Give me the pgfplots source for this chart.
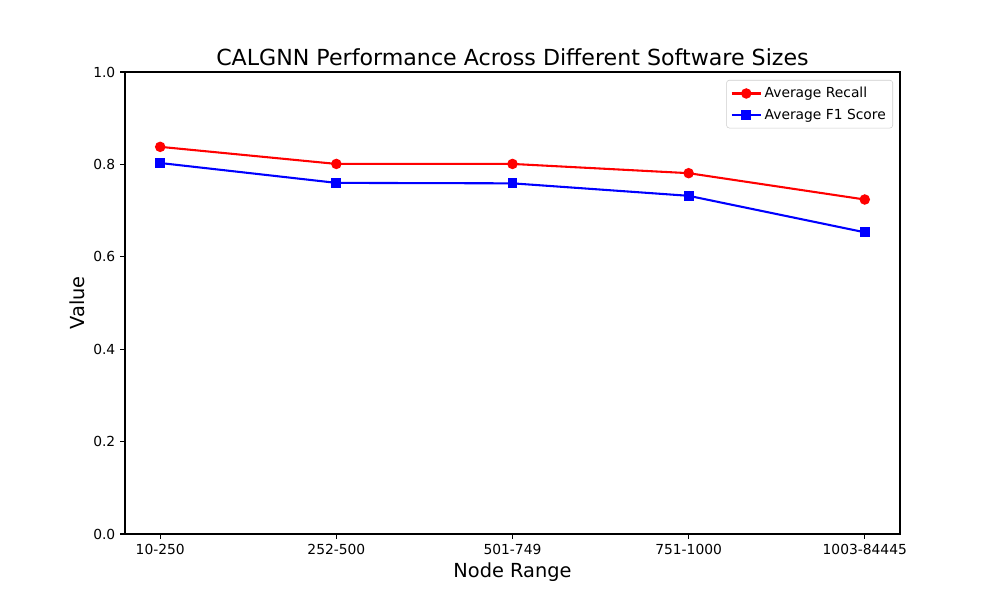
\documentclass[border=0pt]{standalone}
\usepackage{pgfplots}
\pgfplotsset{compat=1.18}
\usepackage{fontspec}
\setmainfont{DejaVu Sans}

\begin{document}
\begin{tikzpicture}
\begin{axis}[
  width=7.75in, height=4.62in, scale only axis,
  xmin=-0.2, xmax=4.2, ymin=0, ymax=1,
  xtick={0,1,2,3,4},
  xticklabels={10-250,252-500,501-749,751-1000,1003-84445},
  ytick={0,0.2,0.4,0.6,0.8,1.0},
  yticklabel style={/pgf/number format/fixed,
    /pgf/number format/fixed zerofill,
    /pgf/number format/precision=1},
  /pgf/number format/assume math mode=true,
  tick align=outside, tick pos=left,
  major tick length=3.5pt,
  every tick/.style={black, line width=0.8pt},
  axis line style={line width=0.8pt},
  tick label style={font=\fontsize{10}{12}\selectfont},
  xlabel={Node Range}, ylabel={Value},
  label style={font=\fontsize{14}{17}\selectfont},
  xlabel style={at={(axis description cs:0.5,-0.082)}, anchor=center},
  ylabel style={at={(axis description cs:-0.062,0.5)}, anchor=center},
  title={CALGNN Performance Across Different Software Sizes},
  title style={font=\fontsize{16}{19}\selectfont,
    at={(axis description cs:0.5,1.013)}, anchor=center},
  legend style={at={(1,1)}, anchor=north east, xshift=-0.07in, yshift=-0.08in,
    font=\fontsize{10}{12}\selectfont, draw=black!20, rounded corners=2pt,
    inner xsep=3pt, inner ysep=3pt, row sep=2.5pt},
  legend cell align=left,
  legend image code/.code={
    \draw[mark repeat=2, mark phase=2] plot coordinates {(0cm,0cm) (0.37cm,0cm) (0.74cm,0cm)};
  },
]
\addplot[red, line width=1.5pt, mark=*, mark size=3pt, mark options={solid}]
  coordinates {(0,0.838) (1,0.801) (2,0.801) (3,0.781) (4,0.724)};
\addlegendentry{Average Recall}
\addplot[blue, line width=1.5pt, mark=square*, mark size=2.8pt, mark options={solid}]
  coordinates {(0,0.803) (1,0.760) (2,0.759) (3,0.732) (4,0.653)};
\addlegendentry{Average F1 Score}
\end{axis}
\pgfresetboundingbox
\path (-1.25in,-0.66in) rectangle (8.75in,5.34in);
\end{tikzpicture}
\end{document}
